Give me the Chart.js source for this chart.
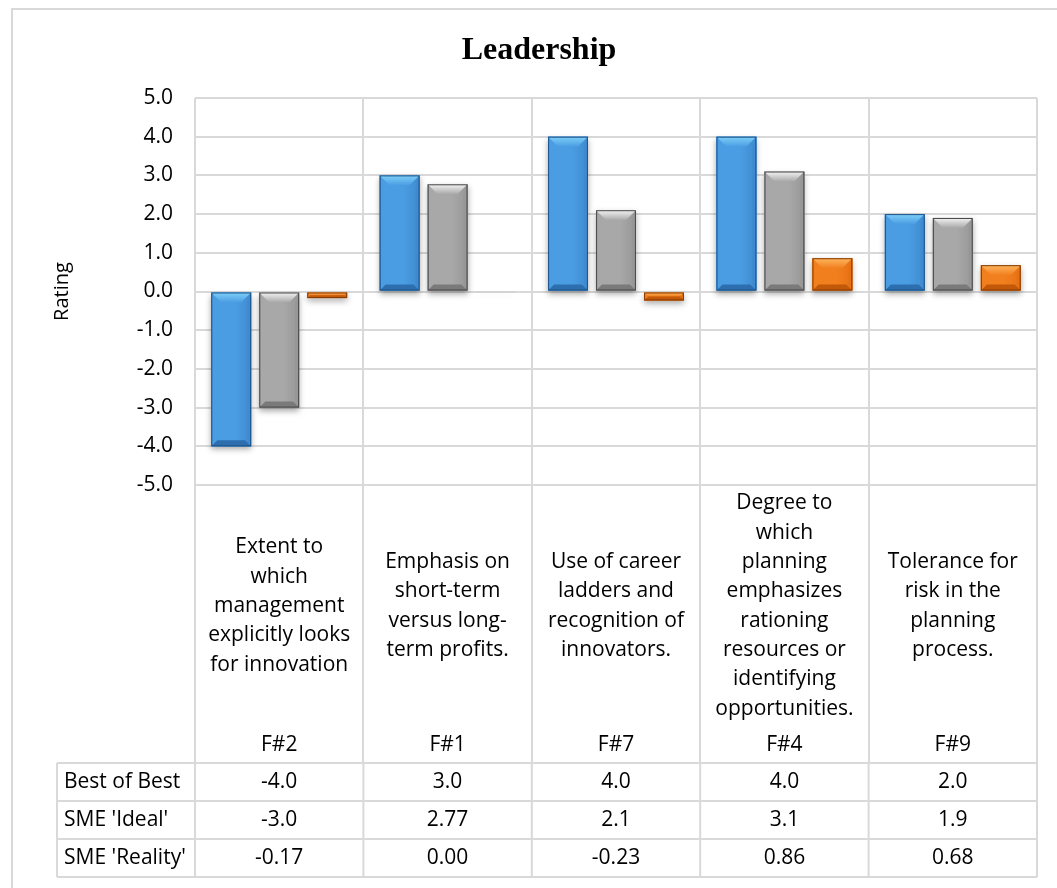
<!DOCTYPE html>
<html>
<head>
<meta charset="utf-8">
<title>Leadership</title>
<script src="https://cdn.jsdelivr.net/npm/chart.js@4.4.1/dist/chart.umd.min.js"></script>
<style>
  html, body { margin: 0; padding: 0; background: #fff; }
  #wrap { width: 1057px; height: 888px; position: relative; }
</style>
</head>
<body>
<div id="wrap"><canvas id="leadership-chart"></canvas></div>
<script>
const chartTitle = 'Leadership'
const categories = [
  ['Extent to', 'which', 'management', 'explicitly looks', 'for innovation'],
  ['Emphasis on', 'short-term', 'versus long-', 'term profits.'],
  ['Use of career', 'ladders and', 'recognition of', 'innovators.'],
  ['Degree to', 'which', 'planning', 'emphasizes', 'rationing', 'resources or', 'identifying', 'opportunities.'],
  ['Tolerance for', 'risk in the', 'planning', 'process.']
]
const codes = ['F#2', 'F#1', 'F#7', 'F#4', 'F#9']
const seriesNames = ['Best of Best', "SME 'Ideal'", "SME 'Reality'"]

const bestOfBest = [-4.0, 3.0, 4.0, 4.0, 2.0]
const smeIdeal = [-3.0, 2.77, 2.1, 3.1, 1.9]
const smeReality = [-0.17, 0.00, -0.23, 0.86, 0.68]

// text shown in the data table under the chart
const bestOfBestText = ['-4.0', '3.0', '4.0', '4.0', '2.0']
const smeIdealText = ['-3.0', '2.77', '2.1', '3.1', '1.9']
const smeRealityText = ['-0.17', '0.00', '-0.23', '0.86', '0.68']

const yTicks = [-5, -4, -3, -2, -1, 0, 1, 2, 3, 4, 5]

const gridColor = '#d9d9d9'
const labelFont = '21px "Open Sans"'

// colours for each series
const palettes = [
  { top: '#7fd0f9', left: '#4a9de2', face: '#3f8ad0', right: '#2f74ba', bottom: '#2d6eae', edge: '#1d5288' },
  { top: '#f4f4f4', left: '#a8a8a8', face: '#979797', right: '#858585', bottom: '#7a7a7a', edge: '#474747' },
  { top: '#fdb660', left: '#f27f1e', face: '#e67114', right: '#d8640b', bottom: '#c25909', edge: '#843b05' }
]

Chart.defaults.font.family = '"Open Sans"'
Chart.defaults.color = '#000'

const shadowAndBevel = {
  id: 'shadowAndBevel',
  beforeDatasetsDraw(chart) {
    const ctx = chart.ctx
    ctx.save()
    ctx.shadowColor = 'rgba(0,0,0,0.35)'
    ctx.shadowBlur = 6
    ctx.shadowOffsetY = 3
    chart.data.datasets.forEach((ds, di) => {
      chart.getDatasetMeta(di).data.forEach(bar => {
        const { x, y, base, width } = bar.getProps(['x', 'y', 'base', 'width'], true)
        const t = Math.min(y, base)
        const h = Math.abs(base - y)
        ctx.fillStyle = h > 0.5 ? palettes[di].bottom : 'rgba(170,170,170,0.2)'
        ctx.fillRect(x - width / 2, t, width, Math.max(h, 1))
      })
    })
    ctx.restore()
  },
  afterDatasetsDraw(chart) {
    const ctx = chart.ctx
    ctx.save()
    chart.data.datasets.forEach((ds, di) => {
      const p = palettes[di]
      chart.getDatasetMeta(di).data.forEach(bar => {
        const { x, y, base, width } = bar.getProps(['x', 'y', 'base', 'width'], true)
        const L = x - width / 2
        const R = x + width / 2
        const T = Math.min(y, base)
        const B = Math.max(y, base)
        const h = B - T
        if (h < 1) return
        const b = Math.min(11, h / 2, width / 4)
        const bb = Math.min(6, h / 2, width / 4)

        const g = ctx.createLinearGradient(L, 0, R, 0)
        g.addColorStop(0, p.left)
        g.addColorStop(0.6, p.left)
        g.addColorStop(1, p.face)
        ctx.fillStyle = g
        ctx.fillRect(L, T, width, h)

        // right face, a little darker
        ctx.fillStyle = p.face
        ctx.beginPath()
        ctx.moveTo(R, T); ctx.lineTo(R - 4, T + b); ctx.lineTo(R - 4, B - bb); ctx.lineTo(R, B)
        ctx.closePath(); ctx.fill()

        // top bevel
        const gt = ctx.createLinearGradient(0, T, 0, T + b)
        gt.addColorStop(0, p.top)
        gt.addColorStop(1, p.left)
        ctx.fillStyle = gt
        ctx.beginPath()
        ctx.moveTo(L, T); ctx.lineTo(R, T); ctx.lineTo(R - b, T + b); ctx.lineTo(L + b, T + b)
        ctx.closePath(); ctx.fill()

        // bottom bevel
        ctx.fillStyle = p.bottom
        ctx.beginPath()
        ctx.moveTo(L, B); ctx.lineTo(R, B); ctx.lineTo(R - bb, B - bb); ctx.lineTo(L + bb, B - bb)
        ctx.closePath(); ctx.fill()

        ctx.strokeStyle = p.edge
        ctx.lineWidth = 1
        ctx.strokeRect(L + 0.5, T + 0.5, width - 1, h - 1)
      })
    })
    ctx.restore()
  }
}

const dataTable = {
  id: 'dataTable',
  beforeDraw(chart) {
    const ctx = chart.ctx
    ctx.save()
    ctx.strokeStyle = gridColor
    ctx.lineWidth = 2
    ctx.strokeRect(12, 9, chart.width + 20, chart.height + 20)
    ctx.fillStyle = '#000'
    ctx.font = 'bold 32px "Liberation Serif"'
    ctx.textAlign = 'center'
    ctx.textBaseline = 'middle'
    ctx.fillText(chartTitle, 539, 51)
    ctx.restore()
  },
  afterDraw(chart) {
    const { ctx } = chart
    const x = chart.scales.x
    const band = (x.right - x.left) / codes.length
    ctx.save()
    ctx.font = labelFont
    ctx.fillStyle = '#000'
    ctx.textAlign = 'center'
    ctx.textBaseline = 'middle'

    // category descriptions and codes
    const lineGap = 29.3
    const midY = x.top + 121
    categories.forEach((lines, i) => {
      const cx = x.getPixelForValue(i)
      const y0 = midY - (lines.length - 1) * lineGap / 2
      lines.forEach((t, k) => ctx.fillText(t, cx, y0 + k * lineGap))
      ctx.fillText(codes[i], cx, x.top + 260)
    })

    // data table
    const rows = [bestOfBestText, smeIdealText, smeRealityText]
    const top = x.bottom
    const rowH = 38
    const left = 57
    ctx.strokeStyle = gridColor
    ctx.lineWidth = 2
    ctx.beginPath()
    for (let r = 0; r <= rows.length; r++) {
      ctx.moveTo(left, top + r * rowH)
      ctx.lineTo(x.right, top + r * rowH)
    }
    ctx.moveTo(left, top)
    ctx.lineTo(left, top + rows.length * rowH)
    for (let i = 0; i <= codes.length; i++) {
      ctx.moveTo(x.left + i * band, top)
      ctx.lineTo(x.left + i * band, top + rows.length * rowH)
    }
    ctx.stroke()

    rows.forEach((vals, r) => {
      const cy = top + r * rowH + rowH / 2
      ctx.textAlign = 'left'
      ctx.fillText(seriesNames[r], left + 7, cy)
      ctx.textAlign = 'center'
      vals.forEach((v, i) => ctx.fillText(v, x.getPixelForValue(i), cy))
    })
    ctx.restore()
  }
}

const ctx = document.getElementById('leadership-chart')

new Chart(ctx, {
  type: 'bar',
  data: {
    labels: codes,
    datasets: [
      { label: seriesNames[0], data: bestOfBest, backgroundColor: palettes[0].left },
      { label: seriesNames[1], data: smeIdeal, backgroundColor: palettes[1].left },
      { label: seriesNames[2], data: smeReality, backgroundColor: palettes[2].left }
    ]
  },
  options: {
    responsive: true,
    maintainAspectRatio: false,
    devicePixelRatio: 1,
    animation: false,
    layout: { padding: { top: 98, left: 12, right: 20, bottom: 125 } },
    datasets: {
      bar: { barPercentage: 0.83, categoryPercentage: 0.855 }
    },
    plugins: {
      legend: { display: false },
      tooltip: { enabled: false },
      title: { display: false }
    },
    scales: {
      x: {
        grid: { offset: true, color: gridColor, lineWidth: 2, tickLength: 278, tickColor: gridColor, tickWidth: 2 },
        border: { display: false },
        ticks: { display: false },
        afterFit(scale) { scale.height = 278 }
      },
      y: {
        min: yTicks[0],
        max: yTicks[yTicks.length - 1],
        afterBuildTicks(scale) { scale.ticks = yTicks.map(v => ({ value: v })) },
        grid: { color: gridColor, lineWidth: 2, drawTicks: false },
        border: { display: false },
        ticks: {
          padding: 22,
          font: { size: 21 },
          callback: v => Number(v).toFixed(1)
        },
        title: {
          display: true,
          text: 'Rating',
          font: { size: 20 },
          padding: { top: 38, bottom: 0 }
        },
        afterFit(scale) { scale.width = 183 }
      }
    }
  },
  plugins: [shadowAndBevel, dataTable]
})
</script>
</body>
</html>
